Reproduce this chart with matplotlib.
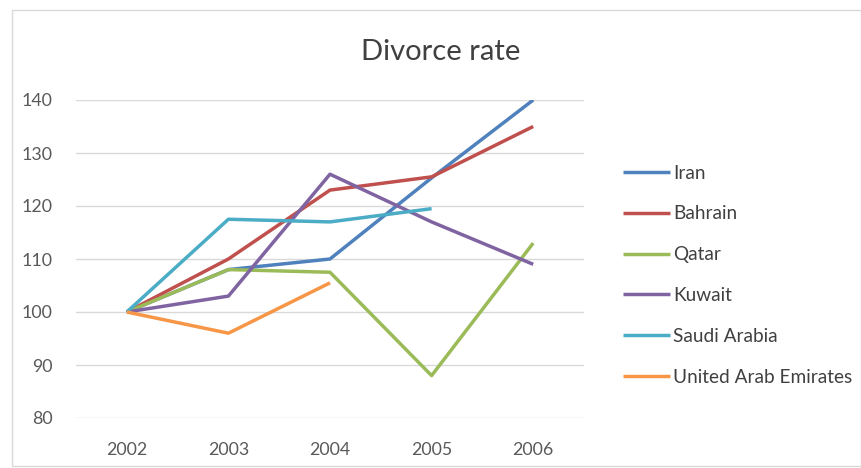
import matplotlib
matplotlib.use("Agg")
import matplotlib.pyplot as plt
import numpy as np

years = ["2002", "2003", "2004", "2005", "2006"]
iran = [100, 108, 110, 125.3, 140]
bahrain = [100, 110, 123, 125.5, 135]
qatar = [100, 108, 107.5, 88, 113]
kuwait = [100, 103, 126, 117, 109]
saudi = [100, 117.5, 117, 119.5]
uae = [100, 96, 105.5]

series = [
    ("Iran", iran, "#4F81BD"),
    ("Bahrain", bahrain, "#C0504D"),
    ("Qatar", qatar, "#9BBB59"),
    ("Kuwait", kuwait, "#8064A2"),
    ("Saudi Arabia", saudi, "#4BACC6"),
    ("United Arab Emirates", uae, "#F79646"),
]

plt.rcParams['font.family'] = ['Lato', 'DejaVu Sans']

W, H = 861, 468
fig = plt.figure(figsize=(W / 100, H / 100), dpi=100)
fig.patch.set_facecolor("white")

ax = fig.add_axes([76 / W, (H - 418) / H, (584 - 76) / W, (418 - 100) / H])
x = np.arange(len(years))
for name, vals, col in series:
    ax.plot(x[:len(vals)], vals, color=col, lw=2.5, label=name, solid_capstyle='butt')

ax.set_xlim(-0.5, len(years) - 0.5)
ax.set_ylim(80, 140)
ax.set_yticks(np.arange(80, 141, 10))
ax.set_xticks(x)
ax.set_xticklabels(years)
ax.grid(axis='y', color='#D9D9D9', lw=1)
ax.set_axisbelow(True)
for s in ax.spines.values():
    s.set_visible(False)
ax.tick_params(length=0, labelsize=12.8, colors='#595959')
ax.tick_params(axis='x', pad=17)
ax.tick_params(axis='y', pad=17)

fig.text(441 / W, 1 - 52 / H, "Divorce rate", ha='center', va='center',
         fontsize=21, color='#404040')

leg = fig.legend(loc='upper left', bbox_to_anchor=(615 / W, 1 - 157 / H),
                 frameon=False, fontsize=13.7, handlelength=2.5, handletextpad=0.15,
                 labelspacing=1.25, borderaxespad=0)
for t in leg.get_texts():
    t.set_color('#404040')

fig.add_artist(plt.Rectangle((12 / W, 2 / H), (W - 12) / W, (H - 12) / H,
                             transform=fig.transFigure, fill=False,
                             edgecolor='#D9D9D9', lw=1))

fig.savefig("out.png", dpi=100)
